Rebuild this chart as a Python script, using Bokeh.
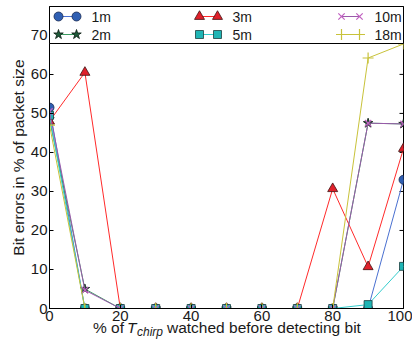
from bokeh.plotting import figure
from bokeh.layouts import column
from bokeh.models import Range1d, FixedTicker, Div
from bokeh.core.properties import value
from bokeh.embed import file_html
from bokeh.resources import INLINE

# Share of T_chirp observed before the bit decision (%)
pct_watched = [0, 10, 20, 30, 40, 50, 60, 70, 80, 90, 100]

# Bit errors in % of packet size, one list per distance
err_1m = [51.5, 0, 0, 0, 0, 0, 0, 0, 0, 0, 33.0]
err_2m = [48.5, 5.0, 0, 0, 0, 0, 0, 0, 0, 47.5, 47.3]
err_3m = [48.0, 60.5, 0, 0, 0, 0, 0, 0, 30.7, 10.7, 41.0]
err_5m = [49.5, 0, 0, 0, 0, 0, 0, 0, 0, 1.0, 10.8]
err_10m = [50.5, 4.7, 0, 0, 0, 0, 0, 0, 0, 47.5, 47.3]
err_18m = [47.0, 0, 0, 0, 0, 0, 0, 0, 0, 64.2, 67.8]

series_names = ["1m", "2m", "3m", "5m", "10m", "18m"]
x_ticks = [0, 20, 40, 60, 80, 100]
y_ticks = [0, 10, 20, 30, 40, 50, 60, 70]

FONT = "Liberation Sans"
INK = "#1a1a1a"

# marker, size, line colour, fill colour, edge colour
styles = {
    "1m": ("circle", 9, "#4a70d0", "#2f5fb3", "#1a2a50"),
    "2m": ("star", 10, "#3a9a60", "#1f5a3a", "#0a1a10"),
    "3m": ("triangle", 10, "#ff2a2a", "#e0202a", "#401010"),
    "5m": ("square", 8, "#33cccc", "#1fb5b5", "#1d3f3f"),
    "10m": ("x", 9, "#9a5aaa", None, "#c060c0"),
    "18m": ("cross", 11, "#c8c23a", None, "#c8c23a"),
}
series_values = dict(zip(series_names, [err_1m, err_2m, err_3m, err_5m, err_10m, err_18m]))

W = 412
FW, FH = 354, 302
TICK_LEN = 4
BOTTOM = 20
TITLE_H = 15

p = figure(
    frame_width=FW, frame_height=FH,
    min_border_left=49, min_border_right=W - 49 - FW, min_border_top=6, min_border_bottom=BOTTOM,
    x_range=Range1d(0, 100), y_range=Range1d(0, 77.4),
    output_backend="svg", toolbar_location=None,
)
p.extra_x_ranges = {"px": Range1d(0, FW)}
p.extra_y_ranges = {"px": Range1d(0, FH)}

p.background_fill_color = "white"
p.border_fill_color = "white"
p.outline_line_color = "black"
p.outline_line_width = 1
p.xgrid.visible = False
p.ygrid.visible = False

for ax in (p.xaxis[0], p.yaxis[0]):
    ax.axis_line_color = "black"
    ax.major_tick_in = TICK_LEN
    ax.major_tick_out = 0
    ax.minor_tick_line_color = None
    ax.major_tick_line_color = "black"
    ax.major_label_text_font = FONT
    ax.major_label_text_font_size = "15px"
    ax.major_label_text_color = INK
    ax.major_label_standoff = 2

p.xaxis.ticker = FixedTicker(ticks=x_ticks)
p.yaxis.ticker = FixedTicker(ticks=y_ticks)

p.yaxis.axis_label = "Bit errors in % of packet size"
p.yaxis.axis_label_text_font = FONT
p.yaxis.axis_label_text_font_size = "15.5px"
p.yaxis.axis_label_text_font_style = "normal"
p.yaxis.axis_label_text_color = INK
p.yaxis.axis_label_standoff = 1

# inward tick marks along the right edge of the frame
p.segment(x0=[FW - TICK_LEN] * (len(y_ticks) - 1), x1=[FW] * (len(y_ticks) - 1),
          y0=y_ticks[:-1], y1=y_ticks[:-1], x_range_name="px",
          line_color="black", line_width=1)

# data series
for name in series_names:
    marker, size, lc, fc, ec = styles[name]
    ys = series_values[name]
    p.line(pct_watched, ys, line_color=lc, line_width=1)
    if fc is None:
        p.scatter(pct_watched, ys, marker=marker, size=size, line_color=ec, line_width=1.2)
    else:
        p.scatter(pct_watched, ys, marker=marker, size=size, fill_color=fc,
                  line_color=ec, line_width=0.8)

# legend box across the top of the frame (frame pixel coordinates)
LEG_BOTTOM = FH - 37
p.quad(left=0, right=FW, bottom=LEG_BOTTOM, top=FH, x_range_name="px", y_range_name="px",
       fill_color="white", line_color="black", line_width=1, level="overlay")

col_x = [9, 150, 292]
row_y = [FH - 10, FH - 28]
sample_gap = 18
text_gap = 15
for i, name in enumerate(series_names):
    col, row = divmod(i, 2)
    marker, size, lc, fc, ec = styles[name]
    x0 = col_x[col]
    xs = [x0, x0 + sample_gap]
    ys = [row_y[row], row_y[row]]
    p.line(xs, ys, line_color=lc, line_width=1, x_range_name="px", y_range_name="px", level="overlay")
    if fc is None:
        p.scatter(xs, ys, marker=marker, size=size, line_color=ec, line_width=1.2,
                  x_range_name="px", y_range_name="px", level="overlay")
    else:
        p.scatter(xs, ys, marker=marker, size=size, fill_color=fc, line_color=ec, line_width=0.8,
                  x_range_name="px", y_range_name="px", level="overlay")
    p.text(x=[x0 + sample_gap + text_gap], y=[row_y[row]], text=[name],
           text_font=value(FONT), text_font_size="14px", text_color=INK,
           text_baseline="middle", text_align="left",
           x_range_name="px", y_range_name="px", level="overlay")

# x-axis title (HTML strip beneath the chart) with italic, subscripted T_chirp
span = ('<span style="position:absolute; left:{x}px; top:{y}px; font-size:{fs}px; '
        'line-height:1; white-space:nowrap; font-style:{st};">{t}</span>')
title_html = (
    '<div style="position:relative; width:{w}px; height:{h}px; font-family:\'{f}\'; '
    'color:{c}; overflow:visible;">'.format(w=W, h=TITLE_H, f=FONT, c=INK)
    + span.format(x=93, y=-8, fs=15.5, st="normal", t="% of")
    + span.format(x=127, y=-8, fs=15.5, st="italic", t="T")
    + span.format(x=137, y=-2, fs=12, st="italic", t="chirp")
    + span.format(x=167, y=-8, fs=15.5, st="normal", t="watched before detecting bit")
    + '</div>'
)
x_title = Div(text=title_html, width=W, height=TITLE_H, margin=0)

layout = column(p, x_title, spacing=0)
open("out.html", "w").write(file_html(layout, INLINE))
